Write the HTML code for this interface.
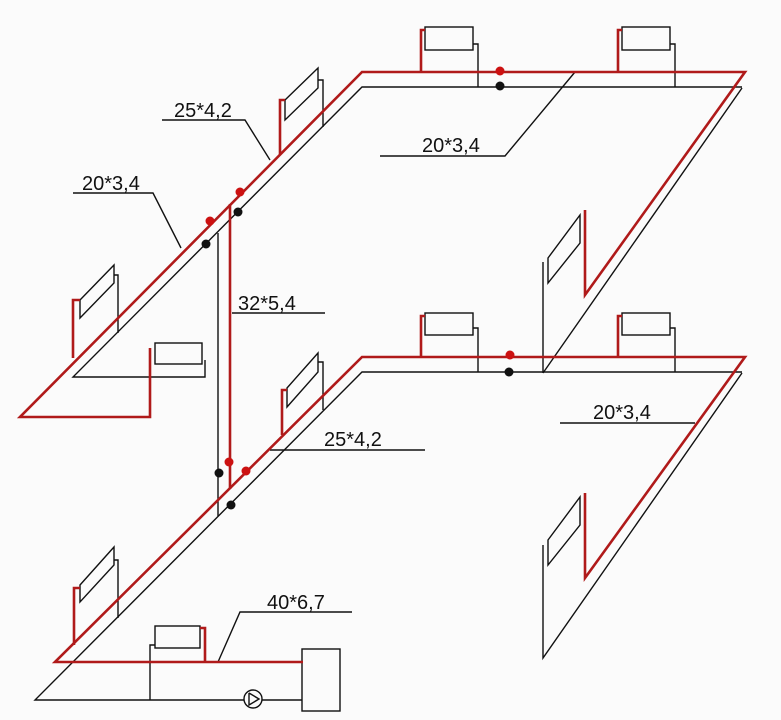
<!DOCTYPE html>
<html><head><meta charset="utf-8"><style>
html,body{margin:0;padding:0;background:#fbfbfb;}
svg{display:block}
text{font-family:"Liberation Sans",sans-serif;font-size:20px;fill:#111}
</style></head><body>
<svg width="781" height="720" viewBox="0 0 781 720" xmlns="http://www.w3.org/2000/svg">
<rect width="781" height="720" fill="#fbfbfb"/>
<g fill="none" stroke="#111" stroke-width="1.4">
<polyline points="742,87 362,87 73,377 205,377 205,360"/>
<polyline points="742,88 543,373"/>
<line x1="543" y1="262" x2="543" y2="373"/>
<rect x="425" y="27" width="48" height="23"/><polyline points="473,44 478,44 478,87"/>
<rect x="622" y="27" width="48" height="23"/><polyline points="670,44 675,44 675,87"/>
<polygon points="285,100 318,68 318,88 285,120"/><polyline points="318,80 323,80 323,127"/>
<polygon points="80,300 114,265 114,283 80,318"/><polyline points="114,275 118,275 118,333"/>
<rect x="155" y="343" width="47" height="21"/>
<polygon points="548,258 580,215 580,243 548,283"/>
<polyline points="162,120 245,120 270,160"/>
<polyline points="73,193 153,193 181,248"/>
<polyline points="380,156 505,156 575,72"/>
<polyline points="232,313 325,313"/>
<line x1="218" y1="233" x2="218" y2="516"/>
<polyline points="742,372 362,372 35,700 302,700"/>
<polyline points="742,373 543,658 543,545"/>
<rect x="425" y="313" width="48" height="22"/><polyline points="473,328 478,328 478,372"/>
<rect x="622" y="313" width="48" height="22"/><polyline points="670,328 675,328 675,372"/>
<polygon points="287,388 318,353 318,372 287,407"/><polyline points="318,362 323,362 323,410"/>
<polygon points="80,585 114,547 114,565 80,602"/><polyline points="114,560 118,560 118,618"/>
<polygon points="548,540 580,497 580,525 548,565"/>
<rect x="155" y="626" width="45" height="22"/><polyline points="155,645 150,645 150,700"/>
<rect x="302" y="649" width="38" height="62"/>
<circle cx="253" cy="699" r="9" fill="#fbfbfb"/>
<polyline points="249,693 259,699 249,705 249,693"/>
<polyline points="270,450 425,450"/>
<polyline points="560,423 695,423"/>
<polyline points="218,662 240,612 352,612"/>
</g>
<g fill="none" stroke="#b01a1a" stroke-width="2.6">
<polyline points="150,348 150,417 20,417 362,72 745,72 585,295 585,210"/>
<polyline points="421,72 421,30 425,30"/>
<polyline points="618,72 618,30 622,30"/>
<polyline points="280,155 280,100 285,100"/>
<polyline points="73,358 73,300 80,300"/>
<line x1="230" y1="204" x2="230" y2="489"/>
<polyline points="303,662 55,662 362,357 745,357 585,578 585,493"/>
<polyline points="421,357 421,316 425,316"/>
<polyline points="618,357 618,316 622,316"/>
<polyline points="282,435 282,390 287,390"/>
<polyline points="74,645 74,588 80,588"/>
<polyline points="205,662 205,628 200,628"/>
</g>
<g fill="#cc1111">
<circle cx="500" cy="71" r="4.5"/><circle cx="240" cy="192" r="4.5"/><circle cx="210" cy="221" r="4.5"/>
<circle cx="229" cy="462" r="4.5"/><circle cx="246" cy="471" r="4.5"/><circle cx="510" cy="355" r="4.5"/>
</g>
<g fill="#111">
<circle cx="500" cy="86" r="4.5"/><circle cx="238" cy="212" r="4.5"/><circle cx="206" cy="244" r="4.5"/>
<circle cx="219" cy="473" r="4.5"/><circle cx="231" cy="505" r="4.5"/><circle cx="509" cy="372" r="4.5"/>
</g>
<text x="174" y="117">25*4,2</text>
<text x="82" y="190">20*3,4</text>
<text x="422" y="152">20*3,4</text>
<text x="238" y="310">32*5,4</text>
<text x="324" y="446">25*4,2</text>
<text x="593" y="419">20*3,4</text>
<text x="267" y="609">40*6,7</text>
</svg>
</body></html>
